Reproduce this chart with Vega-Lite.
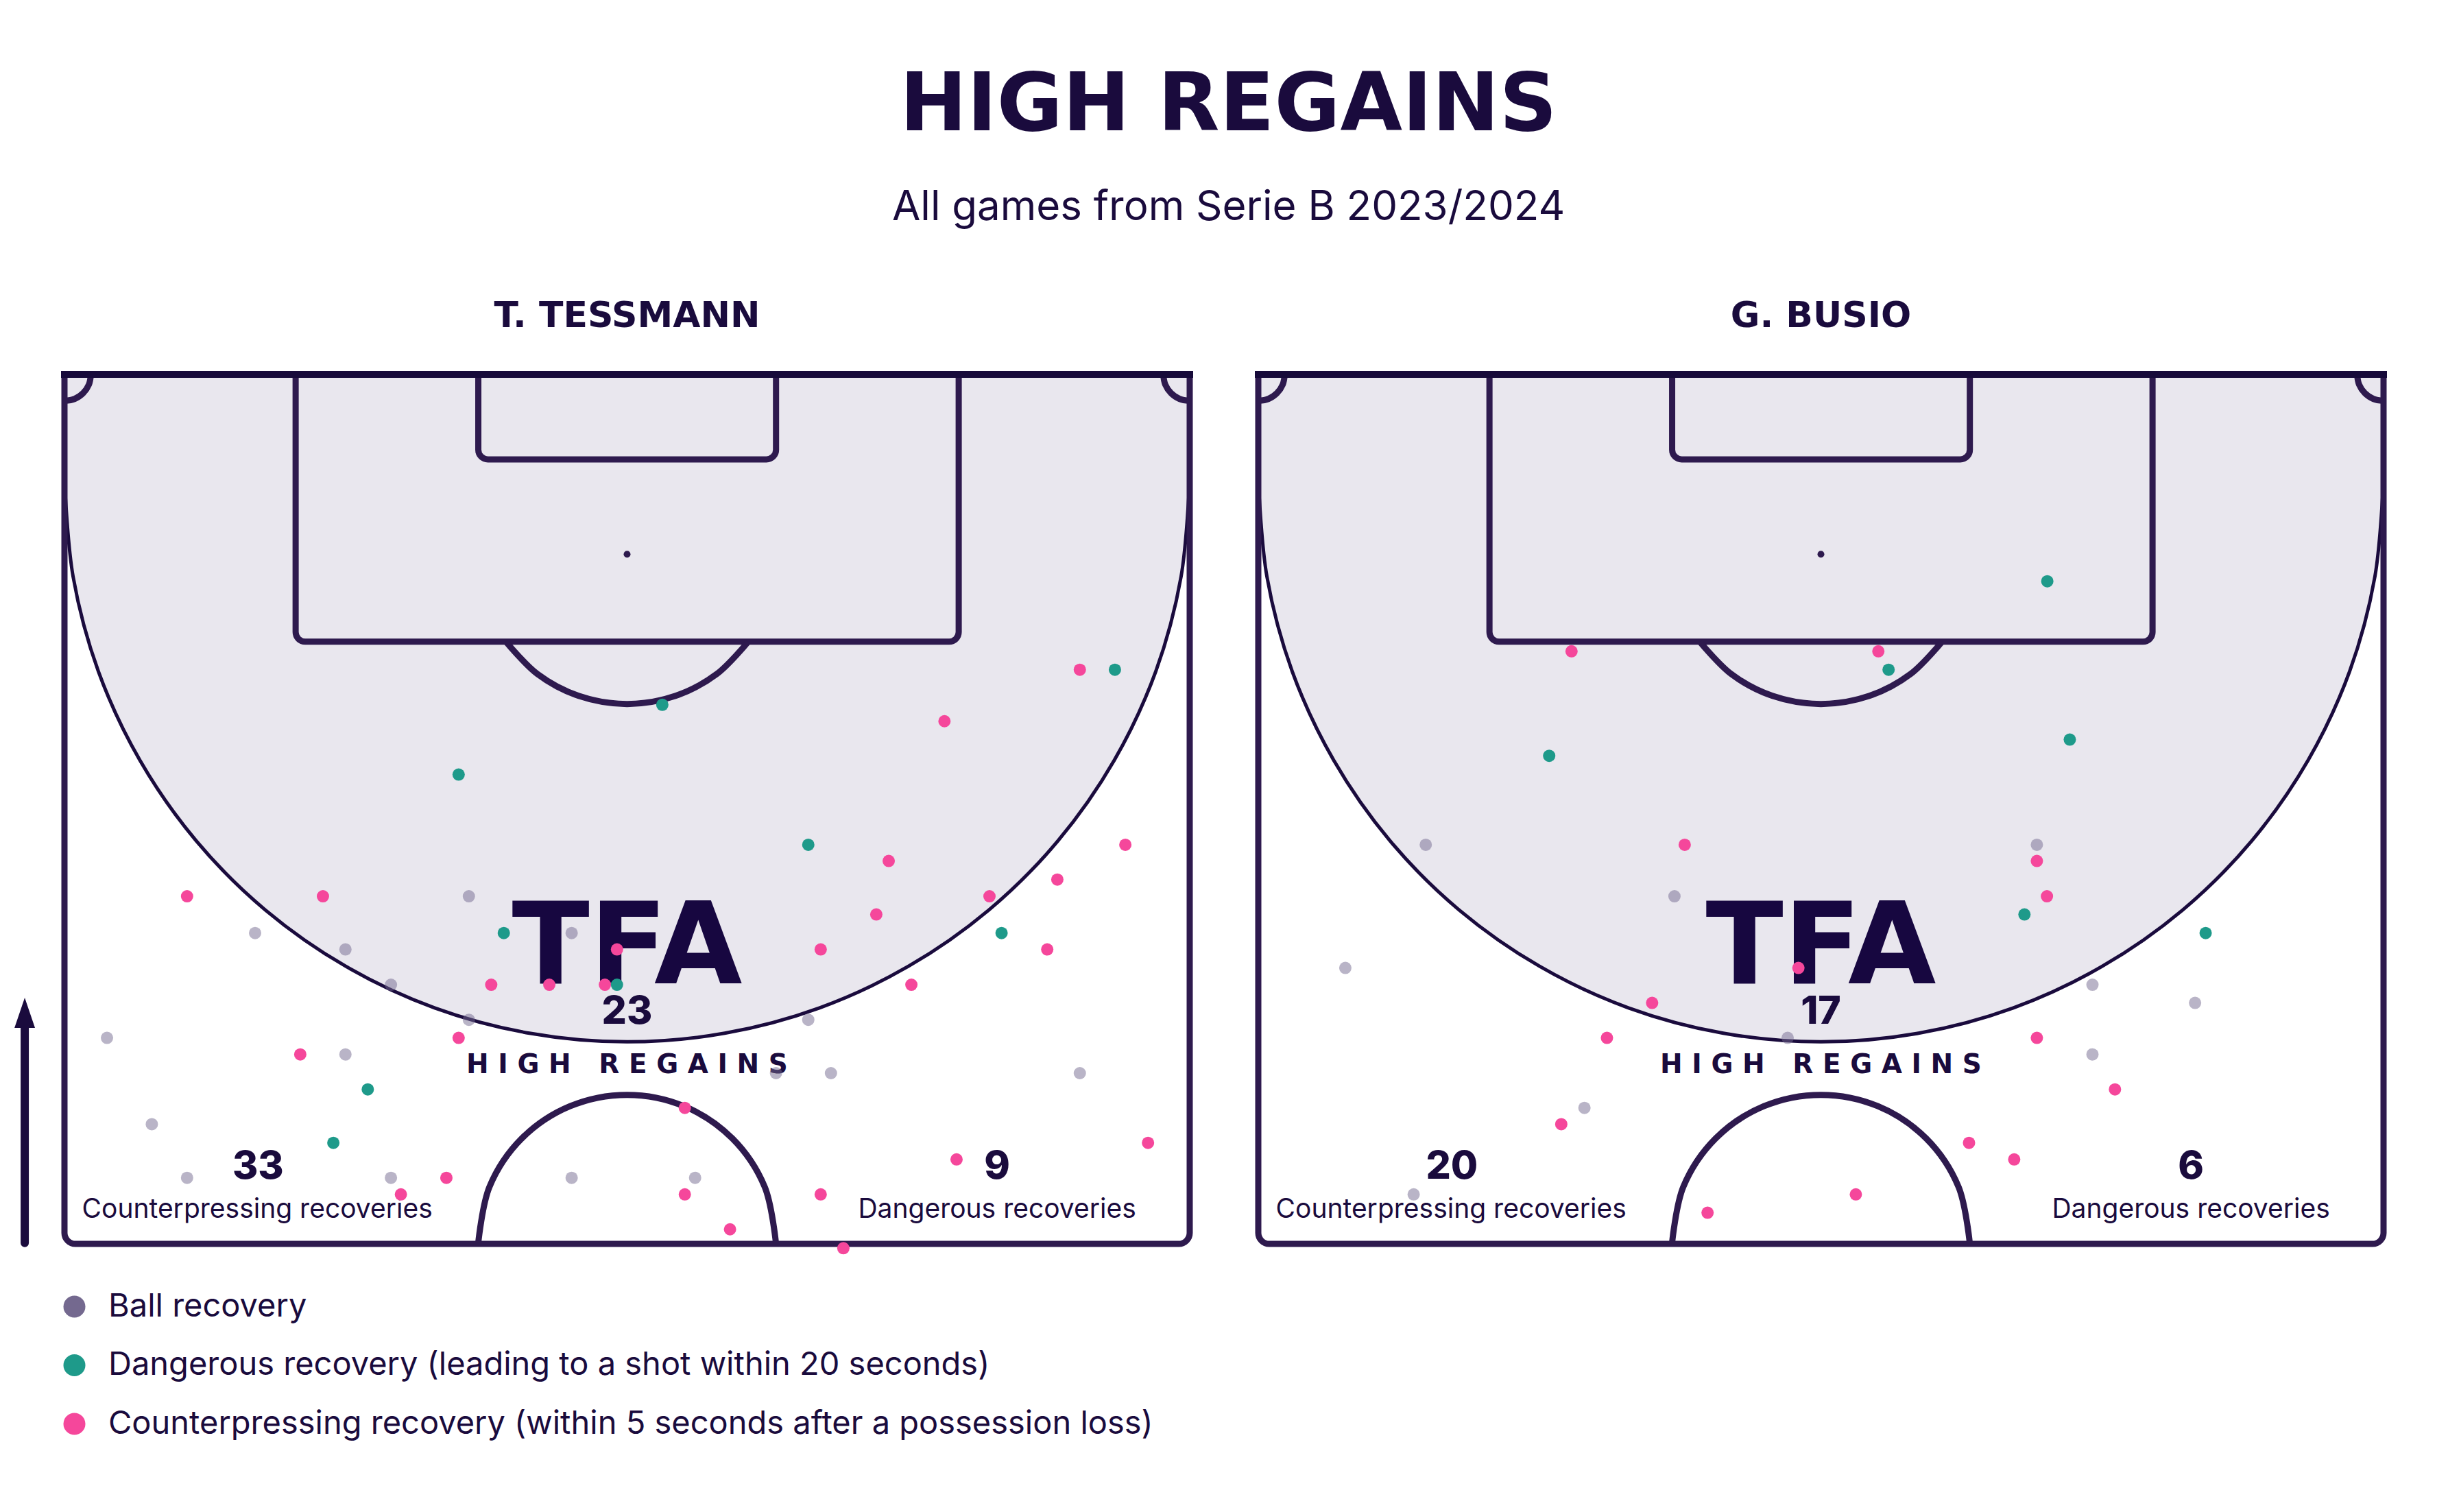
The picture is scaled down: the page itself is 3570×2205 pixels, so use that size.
{
  "$schema": "https://vega.github.io/schema/vega-lite/v6.json",
  "background": "white",
  "padding": {"left": 21, "top": 96, "right": 10, "bottom": 10},
  "title": {
    "text": "HIGH REGAINS",
    "subtitle": "All games from Serie B 2023/2024",
    "anchor": "middle",
    "frame": "bounds",
    "dx": 34,
    "font": "DejaVu Sans",
    "fontSize": 117,
    "fontWeight": "bold",
    "color": "#1a0b3d",
    "subtitleFont": "Inter",
    "subtitleFontSize": 60,
    "subtitleColor": "#1a0b3d",
    "subtitlePadding": 59,
    "offset": 100
  },
  "datasets": {
    "zone": [
      {"x": 0, "y": 46.2}, {"x": 0.52, "y": 40.3}, {"x": 2.05, "y": 34.57}, {"x": 4.56, "y": 29.2},
      {"x": 7.96, "y": 24.34}, {"x": 12.14, "y": 20.16}, {"x": 17.0, "y": 16.76}, {"x": 22.37, "y": 14.25},
      {"x": 28.1, "y": 12.72}, {"x": 34, "y": 12.2}, {"x": 39.9, "y": 12.72}, {"x": 45.63, "y": 14.25},
      {"x": 51.0, "y": 16.76}, {"x": 55.86, "y": 20.16}, {"x": 60.04, "y": 24.34}, {"x": 63.44, "y": 29.2},
      {"x": 65.95, "y": 34.57}, {"x": 67.48, "y": 40.3}, {"x": 68, "y": 46.2}
    ],
    "lines": [
      {"seg": "center", "x": 25, "y": 0}, {"seg": "center", "x": 25.685, "y": 3.444}, {"seg": "center", "x": 27.636, "y": 6.364},
      {"seg": "center", "x": 30.556, "y": 8.315}, {"seg": "center", "x": 34, "y": 9}, {"seg": "center", "x": 37.444, "y": 8.315},
      {"seg": "center", "x": 40.364, "y": 6.364}, {"seg": "center", "x": 42.315, "y": 3.444}, {"seg": "center", "x": 43, "y": 0},
      {"seg": "penarc", "x": 26.68, "y": 36.36}, {"seg": "penarc", "x": 28.58, "y": 34.41}, {"seg": "penarc", "x": 31.07, "y": 33.09},
      {"seg": "penarc", "x": 34, "y": 32.6}, {"seg": "penarc", "x": 36.93, "y": 33.09}, {"seg": "penarc", "x": 39.42, "y": 34.41},
      {"seg": "penarc", "x": 41.32, "y": 36.36},
      {"seg": "cornerL", "x": 0, "y": 50.9}, {"seg": "cornerL", "x": 0.612, "y": 51.02}, {"seg": "cornerL", "x": 1.131, "y": 51.37},
      {"seg": "cornerL", "x": 1.478, "y": 51.89}, {"seg": "cornerL", "x": 1.6, "y": 52.5},
      {"seg": "cornerR", "x": 66.4, "y": 52.5}, {"seg": "cornerR", "x": 66.522, "y": 51.89}, {"seg": "cornerR", "x": 66.869, "y": 51.37},
      {"seg": "cornerR", "x": 67.388, "y": 51.02}, {"seg": "cornerR", "x": 68, "y": 50.9}
    ],
    "stats": [
      {"p": "L", "high": 23, "counter": 33, "danger": 9},
      {"p": "R", "high": 17, "counter": 20, "danger": 6}
    ],
    "pts": [
      {"p": "L", "t": "ball", "x": 24.44, "y": 20.99}, {"p": "L", "t": "ball", "x": 11.52, "y": 18.77},
      {"p": "L", "t": "ball", "x": 16.98, "y": 17.78}, {"p": "L", "t": "ball", "x": 30.65, "y": 18.77},
      {"p": "L", "t": "ball", "x": 19.73, "y": 15.65}, {"p": "L", "t": "ball", "x": 24.44, "y": 13.53},
      {"p": "L", "t": "ball", "x": 2.57, "y": 12.44}, {"p": "L", "t": "ball", "x": 16.98, "y": 11.44},
      {"p": "L", "t": "ball", "x": 5.28, "y": 7.23}, {"p": "L", "t": "ball", "x": 7.41, "y": 3.99},
      {"p": "L", "t": "ball", "x": 19.73, "y": 3.99}, {"p": "L", "t": "ball", "x": 30.65, "y": 3.99},
      {"p": "L", "t": "ball", "x": 44.95, "y": 13.53}, {"p": "L", "t": "ball", "x": 43.0, "y": 10.31},
      {"p": "L", "t": "ball", "x": 46.32, "y": 10.31}, {"p": "L", "t": "ball", "x": 61.36, "y": 10.31},
      {"p": "L", "t": "ball", "x": 38.11, "y": 3.99},
      {"p": "L", "t": "counter", "x": 61.36, "y": 34.67}, {"p": "L", "t": "counter", "x": 53.18, "y": 31.56},
      {"p": "L", "t": "counter", "x": 7.41, "y": 20.99}, {"p": "L", "t": "counter", "x": 15.62, "y": 20.99},
      {"p": "L", "t": "counter", "x": 33.39, "y": 17.78}, {"p": "L", "t": "counter", "x": 25.79, "y": 15.65},
      {"p": "L", "t": "counter", "x": 29.3, "y": 15.65}, {"p": "L", "t": "counter", "x": 32.66, "y": 15.65},
      {"p": "L", "t": "counter", "x": 23.82, "y": 12.44}, {"p": "L", "t": "counter", "x": 14.25, "y": 11.44},
      {"p": "L", "t": "counter", "x": 23.08, "y": 3.99}, {"p": "L", "t": "counter", "x": 20.33, "y": 2.99},
      {"p": "L", "t": "counter", "x": 49.81, "y": 23.12}, {"p": "L", "t": "counter", "x": 64.11, "y": 24.1},
      {"p": "L", "t": "counter", "x": 60.0, "y": 22.0}, {"p": "L", "t": "counter", "x": 55.9, "y": 20.99},
      {"p": "L", "t": "counter", "x": 49.06, "y": 19.89}, {"p": "L", "t": "counter", "x": 45.7, "y": 17.78},
      {"p": "L", "t": "counter", "x": 59.39, "y": 17.78}, {"p": "L", "t": "counter", "x": 51.18, "y": 15.65},
      {"p": "L", "t": "counter", "x": 37.49, "y": 8.21}, {"p": "L", "t": "counter", "x": 37.49, "y": 2.99},
      {"p": "L", "t": "counter", "x": 45.7, "y": 2.99}, {"p": "L", "t": "counter", "x": 40.22, "y": 0.88},
      {"p": "L", "t": "counter", "x": 47.07, "y": -0.26}, {"p": "L", "t": "counter", "x": 53.91, "y": 5.1},
      {"p": "L", "t": "counter", "x": 65.48, "y": 6.1},
      {"p": "L", "t": "danger", "x": 23.82, "y": 28.34}, {"p": "L", "t": "danger", "x": 36.13, "y": 32.55},
      {"p": "L", "t": "danger", "x": 63.48, "y": 34.67}, {"p": "L", "t": "danger", "x": 26.55, "y": 18.77},
      {"p": "L", "t": "danger", "x": 33.39, "y": 15.65}, {"p": "L", "t": "danger", "x": 18.33, "y": 9.33},
      {"p": "L", "t": "danger", "x": 16.25, "y": 6.1}, {"p": "L", "t": "danger", "x": 44.95, "y": 24.1},
      {"p": "L", "t": "danger", "x": 56.63, "y": 18.77},
      {"p": "R", "t": "ball", "x": 10.12, "y": 24.1}, {"p": "R", "t": "ball", "x": 25.15, "y": 20.99},
      {"p": "R", "t": "ball", "x": 5.26, "y": 16.66}, {"p": "R", "t": "ball", "x": 31.99, "y": 12.44},
      {"p": "R", "t": "ball", "x": 19.71, "y": 8.21}, {"p": "R", "t": "ball", "x": 9.39, "y": 2.99},
      {"p": "R", "t": "ball", "x": 47.05, "y": 24.1}, {"p": "R", "t": "ball", "x": 50.41, "y": 15.65},
      {"p": "R", "t": "ball", "x": 56.61, "y": 14.55}, {"p": "R", "t": "ball", "x": 50.41, "y": 11.44},
      {"p": "R", "t": "counter", "x": 18.93, "y": 35.78}, {"p": "R", "t": "counter", "x": 37.47, "y": 35.78},
      {"p": "R", "t": "counter", "x": 25.77, "y": 24.1}, {"p": "R", "t": "counter", "x": 32.64, "y": 16.66},
      {"p": "R", "t": "counter", "x": 23.8, "y": 14.55}, {"p": "R", "t": "counter", "x": 21.07, "y": 12.44},
      {"p": "R", "t": "counter", "x": 18.31, "y": 7.23}, {"p": "R", "t": "counter", "x": 27.15, "y": 1.88},
      {"p": "R", "t": "counter", "x": 47.05, "y": 23.12}, {"p": "R", "t": "counter", "x": 47.66, "y": 20.99},
      {"p": "R", "t": "counter", "x": 47.05, "y": 12.44}, {"p": "R", "t": "counter", "x": 51.77, "y": 9.33},
      {"p": "R", "t": "counter", "x": 42.95, "y": 6.1}, {"p": "R", "t": "counter", "x": 45.68, "y": 5.1},
      {"p": "R", "t": "counter", "x": 36.11, "y": 2.99},
      {"p": "R", "t": "danger", "x": 17.58, "y": 29.47}, {"p": "R", "t": "danger", "x": 47.68, "y": 40.01},
      {"p": "R", "t": "danger", "x": 38.09, "y": 34.67}, {"p": "R", "t": "danger", "x": 49.04, "y": 30.45},
      {"p": "R", "t": "danger", "x": 46.3, "y": 19.89}, {"p": "R", "t": "danger", "x": 57.25, "y": 18.77}
    ]
  },
  "spacing": 100,
  "bounds": "flush",
  "hconcat": [
    {
      "width": 1641,
      "height": 1268,
      "title": {"text": "T. TESSMANN", "font": "DejaVu Sans", "fontSize": 52, "fontWeight": "bold", "color": "#1a0b3d", "offset": 40, "anchor": "middle"},
      "layer": [
        {
          "data": {"name": "zone"},
          "mark": {"type": "area", "interpolate": "catmull-rom", "color": "#e9e7ee"},
          "encoding": {
            "x": {"field": "x", "type": "quantitative", "scale": {"domain": [0, 68], "nice": false, "zero": false}, "axis": null},
            "y": {"field": "y", "type": "quantitative", "scale": {"domain": [0, 52.5], "nice": false, "zero": false}, "axis": null},
            "y2": {"datum": 52.5}
          }
        },
        {
          "data": {"values": [{}]},
          "mark": {"type": "rect", "fillOpacity": 0, "stroke": "#2e1a4e", "strokeWidth": 9, "cornerRadiusBottomLeft": 14, "cornerRadiusBottomRight": 14},
          "encoding": {"x": {"datum": 13.97}, "x2": {"datum": 54.04}, "y": {"datum": 36.36}, "y2": {"datum": 52.5}}
        },
        {
          "data": {"values": [{}]},
          "mark": {"type": "rect", "fillOpacity": 0, "stroke": "#2e1a4e", "strokeWidth": 9, "cornerRadiusBottomLeft": 14, "cornerRadiusBottomRight": 14},
          "encoding": {"x": {"datum": 25.01}, "x2": {"datum": 43.0}, "y": {"datum": 47.37}, "y2": {"datum": 52.5}}
        },
        {
          "data": {"name": "lines"},
          "mark": {"type": "line", "interpolate": "catmull-rom", "color": "#2e1a4e", "strokeWidth": 9},
          "encoding": {"x": {"field": "x", "type": "quantitative"}, "y": {"field": "y", "type": "quantitative"}, "detail": {"field": "seg"}}
        },
        {
          "data": {"values": [{}]},
          "mark": {"type": "circle", "size": 100, "color": "#2e1a4e", "opacity": 1},
          "encoding": {"x": {"datum": 34}, "y": {"datum": 41.64}}
        },
        {
          "data": {"name": "zone"},
          "mark": {"type": "line", "interpolate": "catmull-rom", "color": "#1a0b3d", "strokeWidth": 5},
          "encoding": {"x": {"field": "x", "type": "quantitative"}, "y": {"field": "y", "type": "quantitative"}}
        },
        {
          "data": {"values": [{}]},
          "mark": {"type": "rect", "fillOpacity": 0, "stroke": "#2e1a4e", "strokeWidth": 9, "cornerRadiusBottomLeft": 16, "cornerRadiusBottomRight": 16},
          "encoding": {"x": {"datum": 0}, "x2": {"datum": 68}, "y": {"datum": 0}, "y2": {"datum": 52.5}}
        },
        {
          "data": {"values": [{}]},
          "mark": {"type": "rule", "color": "#170a3a", "strokeWidth": 10, "strokeCap": "square"},
          "encoding": {"x": {"datum": 0}, "x2": {"datum": 68}, "y": {"datum": 52.5}}
        },
        {
          "data": {"values": [{}]},
          "mark": {"type": "text", "text": "TFA", "font": "DejaVu Sans", "fontSize": 166, "fontWeight": "bold", "color": "#170740", "align": "center", "baseline": "alphabetic"},
          "encoding": {"x": {"datum": 34}, "y": {"datum": 15.75}}
        },
        {
          "data": {"name": "stats"},
          "transform": [{"filter": "datum.p == 'L'"}],
          "mark": {"type": "text", "font": "Inter", "fontSize": 57, "fontWeight": 800, "color": "#1a0b3d", "align": "center", "baseline": "alphabetic"},
          "encoding": {"x": {"datum": 34}, "y": {"datum": 13.27}, "text": {"field": "high"}}
        },
        {
          "data": {"values": [{}]},
          "mark": {"type": "text", "text": "H I G H \u00a0 R E G A I N S", "font": "DejaVu Sans", "fontSize": 39, "fontWeight": "bold", "color": "#1a0b3d", "align": "center", "baseline": "alphabetic"},
          "encoding": {"x": {"datum": 34}, "y": {"datum": 10.31}}
        },
        {
          "data": {"name": "stats"},
          "transform": [{"filter": "datum.p == 'L'"}],
          "mark": {"type": "text", "font": "Inter", "fontSize": 57, "fontWeight": 800, "color": "#1a0b3d", "align": "center", "baseline": "alphabetic"},
          "encoding": {"x": {"datum": 11.7}, "y": {"datum": 3.93}, "text": {"field": "counter"}}
        },
        {
          "data": {"values": [{}]},
          "mark": {"type": "text", "text": "Counterpressing recoveries", "font": "Inter", "fontSize": 39, "color": "#1a0b3d", "align": "center", "baseline": "alphabetic"},
          "encoding": {"x": {"datum": 11.65}, "y": {"datum": 1.59}}
        },
        {
          "data": {"name": "stats"},
          "transform": [{"filter": "datum.p == 'L'"}],
          "mark": {"type": "text", "font": "Inter", "fontSize": 57, "fontWeight": 800, "color": "#1a0b3d", "align": "center", "baseline": "alphabetic"},
          "encoding": {"x": {"datum": 56.36}, "y": {"datum": 3.93}, "text": {"field": "danger"}}
        },
        {
          "data": {"values": [{}]},
          "mark": {"type": "text", "text": "Dangerous recoveries", "font": "Inter", "fontSize": 39, "color": "#1a0b3d", "align": "center", "baseline": "alphabetic"},
          "encoding": {"x": {"datum": 56.36}, "y": {"datum": 1.59}}
        },
        {
          "data": {"values": [{}]},
          "mark": {"type": "rule", "color": "#1a0b3d", "strokeWidth": 12, "strokeCap": "round"},
          "encoding": {"x": {"datum": -2.4}, "y": {"datum": 0.05}, "y2": {"datum": 14.0}}
        },
        {
          "data": {"values": [{}]},
          "mark": {"type": "point", "shape": "M0,-1L0.68,1L-0.68,1Z", "size": 1936, "filled": true, "color": "#1a0b3d", "opacity": 1, "strokeWidth": 0},
          "encoding": {"x": {"datum": -2.4}, "y": {"datum": 13.95}}
        },
        {
          "data": {"name": "pts"},
          "transform": [{"filter": "datum.p == 'L'"}],
          "mark": {"type": "circle", "size": 324},
          "encoding": {
            "x": {"field": "x", "type": "quantitative"},
            "y": {"field": "y", "type": "quantitative"},
            "color": {
              "field": "t", "type": "nominal",
              "scale": {"domain": ["ball", "danger", "counter"], "range": ["#74698f", "#1e9a8a", "#f5479b"]},
              "legend": {
                "orient": "none", "legendX": -9, "legendY": 1336, "title": null, "padding": 0,
                "symbolSize": 1024, "symbolType": "circle", "symbolStrokeWidth": 0, "symbolOpacity": 1,
                "labelFontSize": 47, "labelFont": "Inter", "labelColor": "#1a0b3d", "labelOffset": 26,
                "rowPadding": 37.5, "labelLimit": 0, "direction": "vertical",
                "labelExpr": "datum.label == 'ball' ? 'Ball recovery' : datum.label == 'danger' ? 'Dangerous recovery (leading to a shot within 20 seconds)' : 'Counterpressing recovery (within 5 seconds after a possession loss)'"
              }
            },
            "opacity": {"condition": {"test": "datum.t == 'ball'", "value": 0.5}, "value": 1}
          }
        }
      ]
    },
    {
      "width": 1641,
      "height": 1268,
      "title": {"text": "G. BUSIO", "font": "DejaVu Sans", "fontSize": 52, "fontWeight": "bold", "color": "#1a0b3d", "offset": 40, "anchor": "middle"},
      "layer": [
        {
          "data": {"name": "zone"},
          "mark": {"type": "area", "interpolate": "catmull-rom", "color": "#e9e7ee"},
          "encoding": {
            "x": {"field": "x", "type": "quantitative", "scale": {"domain": [0, 68], "nice": false, "zero": false}, "axis": null},
            "y": {"field": "y", "type": "quantitative", "scale": {"domain": [0, 52.5], "nice": false, "zero": false}, "axis": null},
            "y2": {"datum": 52.5}
          }
        },
        {
          "data": {"values": [{}]},
          "mark": {"type": "rect", "fillOpacity": 0, "stroke": "#2e1a4e", "strokeWidth": 9, "cornerRadiusBottomLeft": 14, "cornerRadiusBottomRight": 14},
          "encoding": {"x": {"datum": 13.97}, "x2": {"datum": 54.04}, "y": {"datum": 36.36}, "y2": {"datum": 52.5}}
        },
        {
          "data": {"values": [{}]},
          "mark": {"type": "rect", "fillOpacity": 0, "stroke": "#2e1a4e", "strokeWidth": 9, "cornerRadiusBottomLeft": 14, "cornerRadiusBottomRight": 14},
          "encoding": {"x": {"datum": 25.01}, "x2": {"datum": 43.0}, "y": {"datum": 47.37}, "y2": {"datum": 52.5}}
        },
        {
          "data": {"name": "lines"},
          "mark": {"type": "line", "interpolate": "catmull-rom", "color": "#2e1a4e", "strokeWidth": 9},
          "encoding": {"x": {"field": "x", "type": "quantitative"}, "y": {"field": "y", "type": "quantitative"}, "detail": {"field": "seg"}}
        },
        {
          "data": {"values": [{}]},
          "mark": {"type": "circle", "size": 100, "color": "#2e1a4e", "opacity": 1},
          "encoding": {"x": {"datum": 34}, "y": {"datum": 41.64}}
        },
        {
          "data": {"name": "zone"},
          "mark": {"type": "line", "interpolate": "catmull-rom", "color": "#1a0b3d", "strokeWidth": 5},
          "encoding": {"x": {"field": "x", "type": "quantitative"}, "y": {"field": "y", "type": "quantitative"}}
        },
        {
          "data": {"values": [{}]},
          "mark": {"type": "rect", "fillOpacity": 0, "stroke": "#2e1a4e", "strokeWidth": 9, "cornerRadiusBottomLeft": 16, "cornerRadiusBottomRight": 16},
          "encoding": {"x": {"datum": 0}, "x2": {"datum": 68}, "y": {"datum": 0}, "y2": {"datum": 52.5}}
        },
        {
          "data": {"values": [{}]},
          "mark": {"type": "rule", "color": "#170a3a", "strokeWidth": 10, "strokeCap": "square"},
          "encoding": {"x": {"datum": 0}, "x2": {"datum": 68}, "y": {"datum": 52.5}}
        },
        {
          "data": {"values": [{}]},
          "mark": {"type": "text", "text": "TFA", "font": "DejaVu Sans", "fontSize": 166, "fontWeight": "bold", "color": "#170740", "align": "center", "baseline": "alphabetic"},
          "encoding": {"x": {"datum": 34}, "y": {"datum": 15.75}}
        },
        {
          "data": {"name": "stats"},
          "transform": [{"filter": "datum.p == 'R'"}],
          "mark": {"type": "text", "font": "Inter", "fontSize": 57, "fontWeight": 800, "color": "#1a0b3d", "align": "center", "baseline": "alphabetic"},
          "encoding": {"x": {"datum": 34}, "y": {"datum": 13.27}, "text": {"field": "high"}}
        },
        {
          "data": {"values": [{}]},
          "mark": {"type": "text", "text": "H I G H \u00a0 R E G A I N S", "font": "DejaVu Sans", "fontSize": 39, "fontWeight": "bold", "color": "#1a0b3d", "align": "center", "baseline": "alphabetic"},
          "encoding": {"x": {"datum": 34}, "y": {"datum": 10.31}}
        },
        {
          "data": {"name": "stats"},
          "transform": [{"filter": "datum.p == 'R'"}],
          "mark": {"type": "text", "font": "Inter", "fontSize": 57, "fontWeight": 800, "color": "#1a0b3d", "align": "center", "baseline": "alphabetic"},
          "encoding": {"x": {"datum": 11.7}, "y": {"datum": 3.93}, "text": {"field": "counter"}}
        },
        {
          "data": {"values": [{}]},
          "mark": {"type": "text", "text": "Counterpressing recoveries", "font": "Inter", "fontSize": 39, "color": "#1a0b3d", "align": "center", "baseline": "alphabetic"},
          "encoding": {"x": {"datum": 11.65}, "y": {"datum": 1.59}}
        },
        {
          "data": {"name": "stats"},
          "transform": [{"filter": "datum.p == 'R'"}],
          "mark": {"type": "text", "font": "Inter", "fontSize": 57, "fontWeight": 800, "color": "#1a0b3d", "align": "center", "baseline": "alphabetic"},
          "encoding": {"x": {"datum": 56.36}, "y": {"datum": 3.93}, "text": {"field": "danger"}}
        },
        {
          "data": {"values": [{}]},
          "mark": {"type": "text", "text": "Dangerous recoveries", "font": "Inter", "fontSize": 39, "color": "#1a0b3d", "align": "center", "baseline": "alphabetic"},
          "encoding": {"x": {"datum": 56.36}, "y": {"datum": 1.59}}
        },
        {
          "data": {"name": "pts"},
          "transform": [{"filter": "datum.p == 'R'"}],
          "mark": {"type": "circle", "size": 324},
          "encoding": {
            "x": {"field": "x", "type": "quantitative"},
            "y": {"field": "y", "type": "quantitative"},
            "color": {
              "field": "t", "type": "nominal",
              "scale": {"domain": ["ball", "danger", "counter"], "range": ["#74698f", "#1e9a8a", "#f5479b"]},
              "legend": {
                "orient": "none", "legendX": -9, "legendY": 1336, "title": null, "padding": 0,
                "symbolSize": 1024, "symbolType": "circle", "symbolStrokeWidth": 0, "symbolOpacity": 1,
                "labelFontSize": 47, "labelFont": "Inter", "labelColor": "#1a0b3d", "labelOffset": 26,
                "rowPadding": 37.5, "labelLimit": 0, "direction": "vertical",
                "labelExpr": "datum.label == 'ball' ? 'Ball recovery' : datum.label == 'danger' ? 'Dangerous recovery (leading to a shot within 20 seconds)' : 'Counterpressing recovery (within 5 seconds after a possession loss)'"
              }
            },
            "opacity": {"condition": {"test": "datum.t == 'ball'", "value": 0.5}, "value": 1}
          }
        }
      ]
    }
  ],
  "config": {
    "view": {"stroke": null},
    "axis": {"disable": true},
    "font": "Inter"
  }
}
